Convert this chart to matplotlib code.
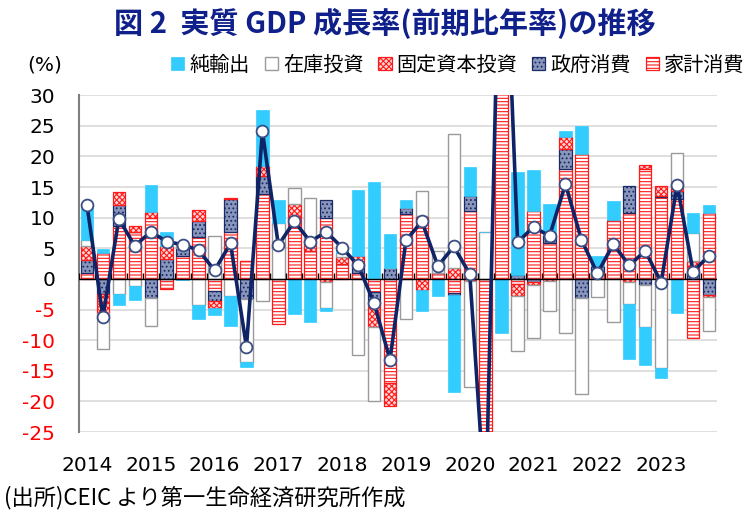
import matplotlib
matplotlib.use('Agg')
import matplotlib.pyplot as plt
import numpy as np

plt.rcParams['font.family'] = ['DejaVu Sans', 'Noto Sans CJK JP']
plt.rcParams['hatch.linewidth'] = 0.8

years = ['2014', '2015', '2016', '2017', '2018', '2019', '2020', '2021', '2022', '2023']
quarters = [f"{y}Q{q}" for y in years for q in range(1, 5)]

net_exports = [5.8, 0.6, -1.7, -2.3, 4.3, 2.3, -0.2, -2.4, -1.2, -4.8,
               -0.7, 9.1, 3.8, -5.8, -7.1, -0.6, 0.9, 10.8, 15.9, 5.6,
               1.3, -3.4, -2.8, -15.7, 4.6, 0.0, -8.9, 16.8, 6.7, 5.0,
               1.1, 4.6, 1.6, 3.0, -9.0, -6.3, -1.6, -5.6, 3.2, 1.2]
inventory = [1.1, -5.9, -2.5, -1.1, -4.6, 0.0, 0.7, -4.2, 7.0, -2.8,
             -10.4, -3.6, 9.1, 2.6, 6.7, -4.2, 0.7, -12.4, -12.2, 0.0,
             -6.6, 4.1, 3.6, 21.9, -17.2, 7.7, 0.0, -8.9, -8.6, -4.9,
             -8.9, -15.6, -3.0, -7.1, -3.6, -6.8, -14.5, 5.4, 4.6, -5.6]
fixed_inv = [2.2, -3.0, 2.2, 1.0, 1.0, 2.2, 0.0, 1.8, -1.1, 0.2,
             0.0, 1.6, 0.0, 2.2, 2.0, -0.5, 1.1, 1.1, -3.8, -3.7,
             0.0, -1.8, 0.0, 1.8, -0.4, 0.0, 0.0, -1.9, -0.5, -0.4,
             1.9, 0.0, 0.0, 0.0, -0.5, 0.7, 1.6, 0.9, 1.4, -0.3]
government = [2.2, -2.5, 3.3, 0.0, -3.1, 3.2, 1.3, 2.6, -1.6, 5.4,
              -3.2, 3.0, 0.0, 0.0, 0.0, 2.9, 0.0, 1.6, -1.8, 1.8,
              1.0, 0.0, 0.0, -0.4, 2.5, 0.0, 0.0, 0.7, -0.5, 1.4,
              3.2, -3.1, 0.9, 0.0, 4.3, -1.0, 0.2, 1.3, 1.5, -2.6]
household = [0.9, 4.3, 8.7, 7.6, 10.0, -1.7, 3.7, 6.8, -2.0, 7.6,
             3.0, 13.8, -7.4, 10.0, 4.5, 10.0, 2.5, 1.0, -2.2, -17.0,
             10.6, 10.3, 1.0, -2.3, 11.1, -46.0, 80.0, -0.9, 11.1, 5.8,
             18.0, 20.4, 1.2, 9.7, 10.8, 17.9, 13.4, 13.0, -9.6, 10.8]
gdp = [12.1, -6.2, 9.8, 5.4, 7.7, 6.1, 5.6, 4.7, 1.4, 5.8,
       -11.1, 24.1, 5.5, 9.4, 6.1, 7.7, 5.1, 2.2, -3.9, -13.2,
       6.3, 9.4, 2.1, 5.3, 0.8, -38.0, 72.0, 6.0, 8.5, 7.0,
       15.5, 6.4, 0.9, 5.7, 2.2, 4.6, -0.6, 15.4, 1.2, 3.8]

yticks = [30, 25, 20, 15, 10, 5, 0, -5, -10, -15, -20, -25]

navy = '#0f2466'
fig = plt.figure(figsize=(7.5, 5.2), dpi=100)
ax = fig.add_axes([0.1053, 0.169, 0.8507, 0.648])

x = np.arange(len(quarters))
# stacking order from zero outward
series = [
    ('家計消費', household, dict(facecolor='white', edgecolor='#ff1a1a', hatch='-----', linewidth=0.9)),
    ('政府消費', government, dict(facecolor='#8996bb', edgecolor='#1b2a66', hatch='....', linewidth=0.9)),
    ('固定資本投資', fixed_inv, dict(facecolor='#ffd6d6', edgecolor='#ff1a1a', hatch='xxxxxx', linewidth=0.9)),
    ('在庫投資', inventory, dict(facecolor='white', edgecolor='#9a9a9a', linewidth=1.0)),
    ('純輸出', net_exports, dict(facecolor='#33ccff', edgecolor='#33ccff', linewidth=0.5)),
]
pos = np.zeros(len(x))
neg = np.zeros(len(x))
handles = {}
for name, vals, style in series:
    v = np.array(vals, dtype=float)
    bottom = np.where(v >= 0, pos, neg)
    bc = ax.bar(x, v, bottom=bottom, width=0.78, label=name, zorder=2, **style)
    handles[name] = bc
    pos = pos + np.where(v >= 0, v, 0)
    neg = neg + np.where(v < 0, v, 0)

ax.plot(x, gdp, color=navy, lw=2.6, marker='o', ms=8.5, mfc='white',
        mec='#3b4f85', mew=1.3, zorder=5)

ax.set_xlim(-0.5, len(x) - 0.5)
ax.set_ylim(-25, 30)
ax.set_yticks(yticks)
ax.set_yticklabels([str(t) for t in yticks])
for lbl, t in zip(ax.get_yticklabels(), yticks):
    lbl.set_color('#ff0000' if t < 0 else 'black')
ax.tick_params(axis='y', length=0, pad=17, labelsize=14.5)
ax.grid(axis='y', color='#d9d9d9', lw=1.2, zorder=0)
ax.set_axisbelow(True)

ax.set_xticks(x[::4])
ax.set_xticklabels(years)
ax.tick_params(axis='x', length=0, pad=17, labelsize=14.5)

for s in ['top', 'right', 'bottom']:
    ax.spines[s].set_visible(False)
ax.spines['left'].set_color('#7f7f7f')
ax.spines['left'].set_linewidth(1.5)

ax.axhline(0, color='black', lw=1.0, zorder=3)
ax.vlines(np.arange(-0.5, len(x), 1), 0, 0.9, color='black', lw=1.0, zorder=3)

order = ['純輸出', '在庫投資', '固定資本投資', '政府消費', '家計消費']
leg = fig.legend([handles[k] for k in order], order, loc='center right',
                 bbox_to_anchor=(0.993, 0.875), ncol=5, frameon=False,
                 prop={'family': ['Noto Sans CJK JP'], 'size': 14.5},
                 handlelength=0.65, handleheight=0.65, handletextpad=0.25,
                 columnspacing=0.75, borderpad=0, borderaxespad=0)

fig.text(0.06, 0.875, '(%)', ha='center', va='center', fontsize=14.5)
fig.text(0.513, 0.955, '図 2  実質 GDP 成長率(前期比年率)の推移', ha='center', va='center',
         fontsize=21, fontweight='bold', color='#10208a',
         family=['Noto Sans CJK JP', 'DejaVu Sans'])
fig.text(0.005, 0.044, '(出所)CEIC より第一生命経済研究所作成', ha='left', va='center',
         fontsize=16, family=['Noto Sans CJK JP', 'DejaVu Sans'])

fig.savefig('out.png', dpi=100)
